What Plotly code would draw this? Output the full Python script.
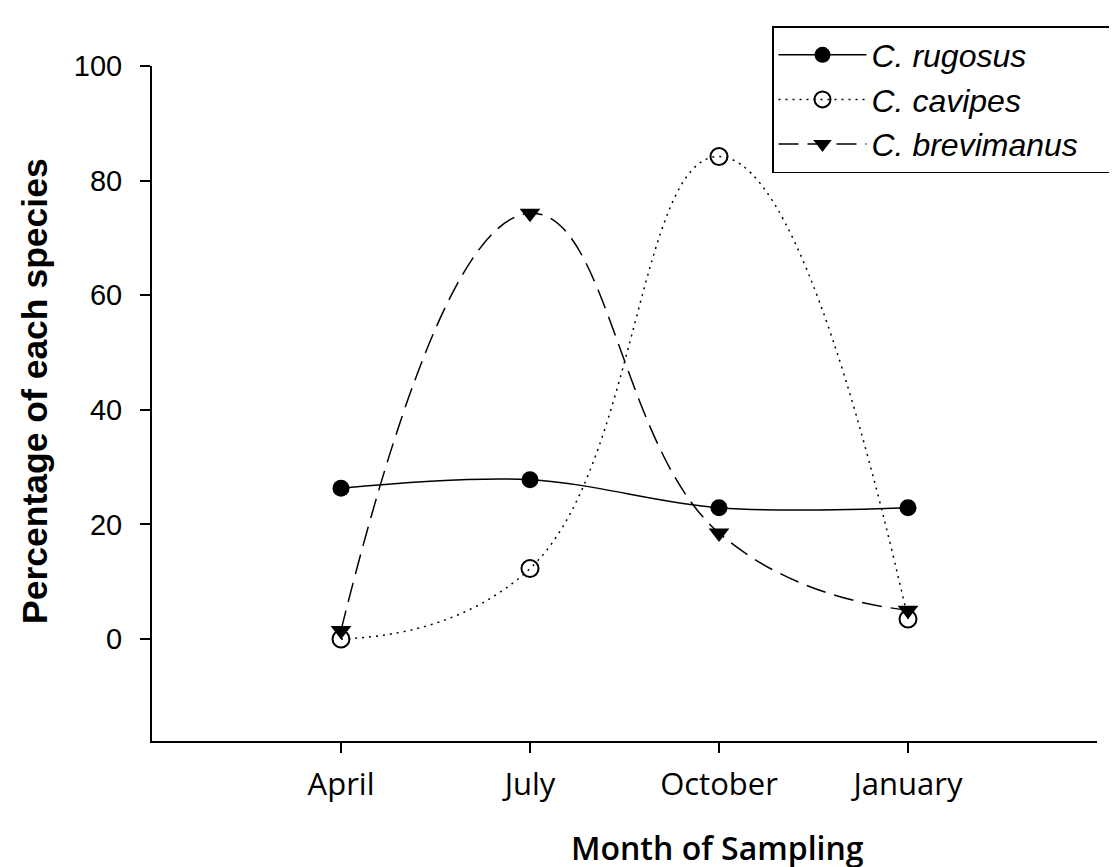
import plotly.graph_objects as go

months = ["April", "July", "October", "January"]
x_pos = [0, 1, 2, 3]
rugosus = [26.3, 27.8, 22.9, 22.9]
cavipes = [0.0, 12.3, 84.2, 3.5]
brevimanus = [1.5, 74.3, 18.5, 5.0]
y_ticks = [0, 20, 40, 60, 80, 100]
species = ["C. rugosus", "C. cavipes", "C. brevimanus"]

# page body has an 8px margin: work in figure coords = reference coords - 8
OFF = 8
W, H = 1117, 867
plot_left, plot_right, plot_top, plot_bottom = 152 - OFF, 1097 - OFF, 66 - OFF, 741 - OFF
ML, MR, MT = plot_left, 5, 12
MB = H - plot_bottom
paper_w = W - ML - MR
paper_h = H - MT - MB

def px_x(px):
    return (px - OFF - ML) / paper_w

def px_y(py):
    return (plot_bottom - (py - OFF)) / paper_h

PAD = "\u00a0\u00a0\u00a0"

fig = go.Figure()
fig.add_trace(go.Scatter(x=x_pos, y=rugosus, name=species[0] + PAD, mode="lines+markers",
                         line=dict(color="black", width=1.5, shape="spline", smoothing=1.0),
                         marker=dict(symbol="circle", size=17, color="black")))
fig.add_trace(go.Scatter(x=x_pos, y=cavipes, name=species[1] + PAD, mode="lines+markers",
                         line=dict(color="black", width=1.5, dash="2px,5px", shape="spline", smoothing=1.3),
                         marker=dict(symbol="circle-open", size=17, color="black", line=dict(width=2))))
fig.add_trace(go.Scatter(x=x_pos, y=brevimanus, name=species[2] + PAD, mode="lines+markers",
                         line=dict(color="black", width=1.5, dash="20px,9px", shape="spline", smoothing=1.3),
                         marker=dict(symbol="triangle-down", size=18, color="black")))

fig.update_layout(
    width=W, height=H,
    paper_bgcolor="white", plot_bgcolor="white",
    margin=dict(l=ML, r=MR, t=MT, b=MB, autoexpand=False),
    font=dict(family="Liberation Sans, Arial", color="black"),
    showlegend=True,
    legend=dict(x=px_x(1111), xanchor="right", y=px_y(26), yanchor="top",
                bordercolor="black", borderwidth=1.5, bgcolor="white",
                font=dict(size=32, family="Liberation Sans, Arial", style="italic"),
                itemwidth=88, tracegroupgap=0),
    xaxis=dict(domain=[0, (plot_right - ML) / paper_w],
               range=[-1, 4], tickvals=x_pos, ticktext=months, showgrid=False, zeroline=False,
               showline=True, linecolor="black", linewidth=2, ticks="outside", ticklen=10,
               tickwidth=2, tickcolor="black", ticklabelstandoff=5,
               tickfont=dict(family="Open Sans", size=31)),
    yaxis=dict(domain=[0, (plot_bottom - plot_top) / paper_h],
               range=[-17.8, 100], tickvals=y_ticks, showgrid=False, zeroline=False,
               showline=True, linecolor="black", linewidth=2, ticks="outside", ticklen=10,
               tickwidth=2, tickcolor="black", ticklabelstandoff=12,
               tickfont=dict(family="Liberation Sans, Arial", size=29)),
    annotations=[
        dict(text="Month of Sampling", xref="paper", yref="paper",
             x=px_x(717), y=px_y(847), xanchor="center", yanchor="middle",
             showarrow=False, font=dict(family="Open Sans", size=32, weight=600)),
        dict(text="<b>Percentage of each species</b>", xref="paper", yref="paper",
             x=px_x(35), y=px_y(391), xanchor="center", yanchor="middle",
             textangle=-90, showarrow=False, font=dict(family="Liberation Sans, Arial", size=35.5)),
    ],
)

fig.write_html("out.html")
